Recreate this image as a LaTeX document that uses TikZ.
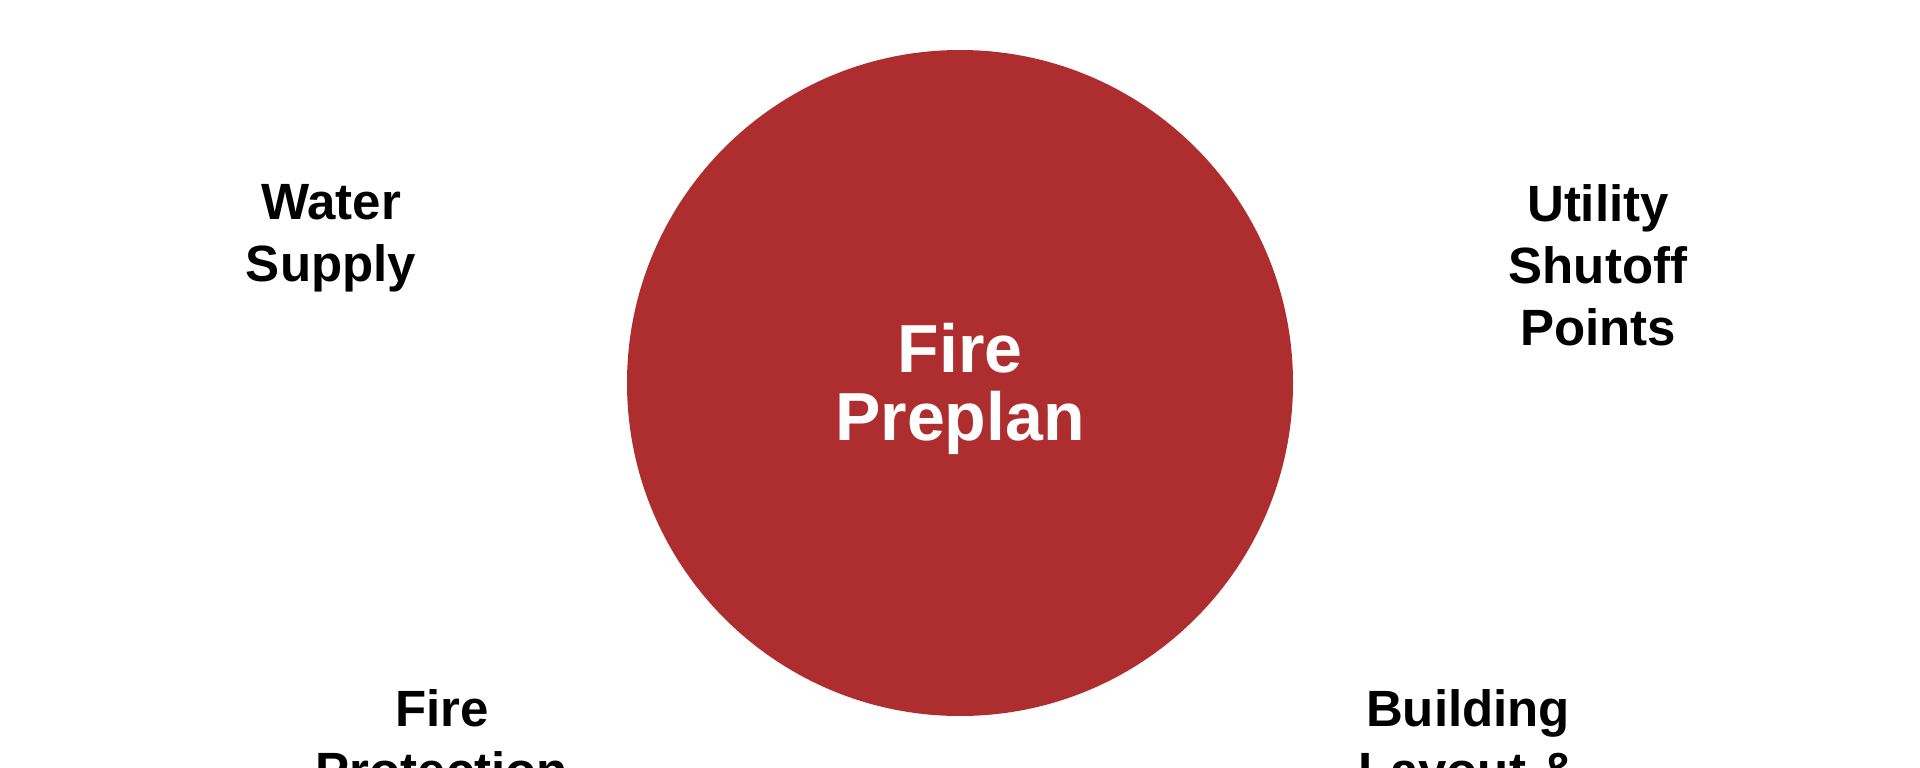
\documentclass[tikz,border=0pt]{standalone}
\usepackage{fontspec}
\setmainfont{Liberation Sans}
\definecolor{firered}{HTML}{AE2D2F}
\begin{document}
\begin{tikzpicture}[x=1pt,y=-1pt,
  lbl/.style={inner sep=0pt,anchor=north,align=center,text=black,
    font=\fontsize{51}{62}\selectfont\bfseries},
  hub/.style={circle,fill=firered,draw=none,minimum size=666pt,inner sep=0pt}]
\useasboundingbox[fill=white] (0,0) rectangle (1920,768);
\node[hub] (c) at (960,383) {};
\node[inner sep=0pt,anchor=north,align=center,text=white,
  font=\fontsize{68}{68}\selectfont\bfseries] (ct) at (960,323) {Fire\\Preplan};
\node[lbl] (ws) at (331,184) {Water\\Supply};
\node[lbl] (us) at (1598,184) {Utility\\Shutoff\\Points};
\node[lbl] (fp) at (442,689) {Fire\\Protection};
\node[lbl] (bl) at (1468,689) {Building\\Layout \&};
\end{tikzpicture}
\end{document}
